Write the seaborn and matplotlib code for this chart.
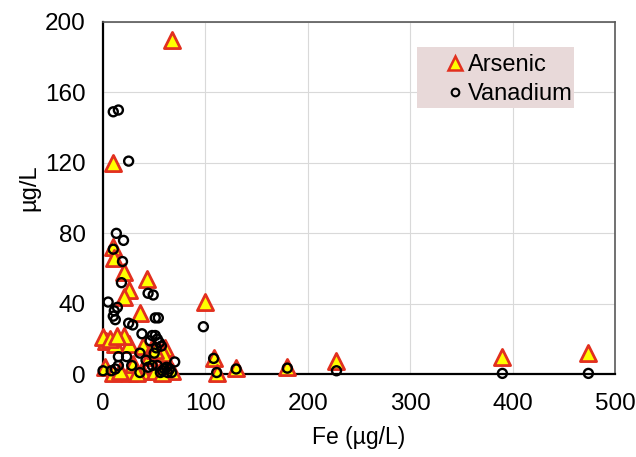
import matplotlib
matplotlib.use("Agg")
import matplotlib.pyplot as plt
from matplotlib.lines import Line2D
from matplotlib.patches import Rectangle
from matplotlib.ticker import MultipleLocator
import seaborn as sns
import pandas as pd

# Arsenic data (Fe, As)
fe_as = [67, 10, 100, 43, 36, 10, 11, 20, 25, 20, 3, 12, 25, 20, 39, 49, 61,
         2, 10, 25, 38, 51, 67, 29, 0, 7, 14, 55, 45, 60, 17, 33, 58, 59, 51,
         108, 111, 130, 180, 228, 390, 474]
as_vals = [190, 120, 41, 54, 35, 72, 66, 58, 48, 44, 19, 17, 17, 22, 16, 16, 15,
           4, 1, 1, 2, 2, 2, 6, 21, 20, 22, 14, 10, 6, 2, 1, 1, 12, 14,
           9, 1, 3.5, 4, 7.5, 10, 12]

# Vanadium data (Fe, V)
fe_v = [10, 15, 25, 13, 20, 10, 19, 18, 44, 49, 5, 14, 11, 10, 12, 25, 29, 51,
        54, 38, 48, 51, 53, 46, 36, 23, 15, 70, 0, 12, 15, 36, 44, 48, 53, 58,
        63, 67, 56, 8, 28, 42, 60, 52, 55, 57, 50, 62, 65,
        98, 108, 111, 130, 180, 228, 390, 474]
v_vals = [149, 150, 121, 80, 76, 71, 64, 52, 46, 45, 41, 38, 36, 33, 31, 29, 28, 32,
          32, 23, 22, 22, 20, 19, 12, 10, 10, 7, 2, 3, 5, 1, 4, 5, 5, 2,
          1, 1, 1, 2, 5, 8, 3, 15, 18, 16, 12, 4, 3,
          27, 9, 1, 3, 3.5, 2, 0.5, 0.5]

df_as = pd.DataFrame({"Fe": fe_as, "val": as_vals})
df_v = pd.DataFrame({"Fe": fe_v, "val": v_vals})

sns.set_style("white")
plt.rcParams["font.family"] = ["Liberation Sans", "DejaVu Sans"]
plt.rcParams["text.color"] = "black"
plt.rcParams["axes.labelcolor"] = "black"
plt.rcParams["xtick.color"] = "black"
plt.rcParams["ytick.color"] = "black"

fig = plt.figure(figsize=(6.36, 4.57), dpi=100)
ax = fig.add_axes([0.162, 0.181, 0.805, 0.771])

RED = "#e2301f"
YEL = "#ffff00"

sns.scatterplot(data=df_as, x="Fe", y="val", ax=ax, marker="^", s=135,
                color=YEL, edgecolor=RED, linewidth=2.0, zorder=3, legend=False)
sns.scatterplot(data=df_v, x="Fe", y="val", ax=ax, marker="o", s=42,
                facecolor="none", edgecolor="black", linewidth=1.7, zorder=4,
                legend=False)
for coll in ax.collections:
    coll.set_clip_on(False)

ax.set_xlim(0, 500)
ax.set_ylim(0, 200)
ax.xaxis.set_major_locator(MultipleLocator(100))
ax.xaxis.set_minor_locator(MultipleLocator(50))
ax.yaxis.set_major_locator(MultipleLocator(40))
ax.yaxis.set_minor_locator(MultipleLocator(20))

ax.grid(True, which="major", color="#d9d9d9", linewidth=0.8, zorder=0)
ax.set_axisbelow(True)

for side in ["left", "bottom"]:
    ax.spines[side].set_color("black")
    ax.spines[side].set_linewidth(1.6)
for side in ["top", "right"]:
    ax.spines[side].set_color("#595959")
    ax.spines[side].set_linewidth(1.2)
    ax.spines[side].set_visible(True)

ax.tick_params(which="major", direction="inout", length=9, width=1.5,
               color="black", labelcolor="black", labelsize=17.5)
ax.tick_params(axis="y", which="major", pad=8)
ax.tick_params(axis="x", which="major", pad=9)
ax.tick_params(which="minor", direction="out", length=4, width=1.5,
               color="black")
ax.tick_params(axis="both", which="both", top=False, right=False)

ax.set_xlabel("Fe (µg/L)", fontsize=16.5, color="black")
ax.set_ylabel("µg/L", fontsize=17, color="black")
ax.xaxis.set_label_coords(0.5, -0.148)
ax.yaxis.set_label_coords(-0.122, 0.53)

# legend background box
ax.add_patch(Rectangle((0.614, 0.756), 0.306, 0.173, transform=ax.transAxes,
                       facecolor="#e8d9d9", edgecolor="none", zorder=5))

handles = [
    Line2D([], [], linestyle="none", marker="^", markersize=10,
           markerfacecolor=YEL, markeredgecolor=RED, markeredgewidth=1.8,
           label="Arsenic"),
    Line2D([], [], linestyle="none", marker="o", markersize=5.5,
           markerfacecolor="none", markeredgecolor="black", markeredgewidth=1.5,
           label="Vanadium"),
]
leg = ax.legend(handles=handles, loc="center left", bbox_to_anchor=(0.673, 0.837),
                frameon=False, fontsize=17, handlelength=0.6, handletextpad=0.25,
                borderpad=0, labelspacing=0.3, borderaxespad=0, labelcolor="black")
leg.set_zorder(6)

fig.savefig("out.png", dpi=100)
